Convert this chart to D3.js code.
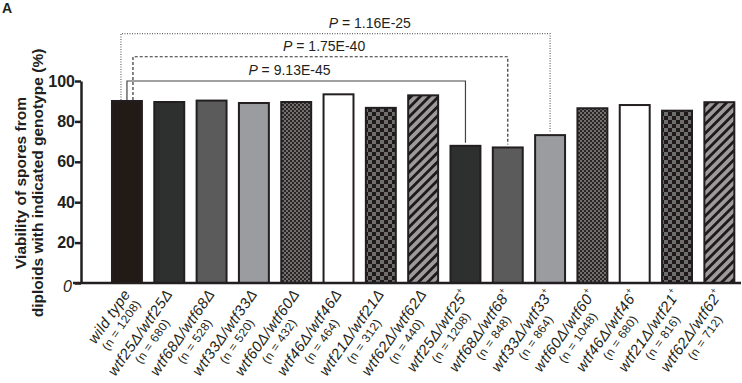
<!DOCTYPE html>
<html><head><meta charset="utf-8">
<script src="https://cdn.jsdelivr.net/npm/d3@7"></script>
<style>body{margin:0;background:#fff} svg{display:block;font-family:"Liberation Sans",Arial,sans-serif}</style>
</head><body><svg id="c" width="742" height="383"></svg>
<script>
// ---- data ----
const genotypes = ["wild type","wtf25Δ/wtf25Δ","wtf68Δ/wtf68Δ","wtf33Δ/wtf33Δ","wtf60Δ/wtf60Δ","wtf46Δ/wtf46Δ","wtf21Δ/wtf21Δ","wtf62Δ/wtf62Δ",
  "wtf25Δ/wtf25","wtf68Δ/wtf68","wtf33Δ/wtf33","wtf60Δ/wtf60","wtf46Δ/wtf46","wtf21Δ/wtf21","wtf62Δ/wtf62"];
const plusSuffix = [false,false,false,false,false,false,false,false,true,true,true,true,true,true,true];
const nValues = [1208,680,528,520,432,464,312,440,1208,848,864,1048,680,816,712];
const viability = [90.6,90.1,90.8,89.6,90.1,93.9,87.2,93.4,68.4,67.6,73.7,87.0,88.6,85.8,90.0];
const fillKinds = ["black","dark","mid","light","fine","white","checker","stripe","dark","mid","light","fine","white","checker","stripe"];
const yTicks = [0,20,40,60,80,100];
const pValues = ["9.13E-45","1.75E-40","1.16E-25"];
const pPairs = [[0,8],[0,9],[0,10]];
const pLevels = [100,112,123.5];
const pStyles = ["solid","dashed","dotted"];
const pLeftOffset = [0,6,-6];
const pLabelFrac = [0.48,0.51,0.58];

// ---- setup ----
const svg = d3.select("#c");
const ink = "#231f20";
const x = d3.scaleBand().domain(d3.range(genotypes.length)).range([100.4,745.9]).paddingInner(0.245).paddingOuter(0.25);
const y = d3.scaleLinear().domain([0,100]).range([283,81]);
const axisX = 81;

const defs = svg.append("defs");
const pf = defs.append("pattern").attr("id","fine").attr("patternUnits","userSpaceOnUse").attr("width",4).attr("height",4);
pf.append("rect").attr("width",4).attr("height",4).attr("fill","#2a2524");
pf.append("rect").attr("width",2).attr("height",2).attr("fill","#707070");
pf.append("rect").attr("x",2).attr("y",2).attr("width",2).attr("height",2).attr("fill","#707070");
const pc = defs.append("pattern").attr("id","checker").attr("patternUnits","userSpaceOnUse").attr("width",8).attr("height",8);
pc.append("rect").attr("width",8).attr("height",8).attr("fill","#1f1a19");
pc.append("rect").attr("width",4).attr("height",4).attr("fill","#6e6e6e");
pc.append("rect").attr("x",4).attr("y",4).attr("width",4).attr("height",4).attr("fill","#6e6e6e");
const ps = defs.append("pattern").attr("id","stripe").attr("patternUnits","userSpaceOnUse").attr("width",6.5).attr("height",6.5).attr("patternTransform","rotate(45)");
ps.append("rect").attr("width",6.5).attr("height",6.5).attr("fill","#9b9b9d");
ps.append("rect").attr("width",2.8).attr("height",6.5).attr("fill","#1f1a19");

const fillMap = {black:"#221a16",dark:"#2e2f2f",mid:"#5b5b5b",light:"#9b9ca0",fine:"url(#fine)",white:"#ffffff",checker:"url(#checker)",stripe:"url(#stripe)"};

// ---- bars ----
svg.append("g").selectAll("rect").data(viability).join("rect")
  .attr("x",(d,i)=>x(i)+1).attr("width",x.bandwidth()-2)
  .attr("y",d=>y(d)+1).attr("height",d=>y(0)-y(d)-1)
  .attr("fill",(d,i)=>fillMap[fillKinds[i]])
  .attr("stroke",ink).attr("stroke-width",2);

// ---- axes ----
const yAxis = svg.append("g").attr("transform",`translate(${axisX},0)`)
  .call(d3.axisLeft(y).tickValues(yTicks).tickSize(6).tickSizeOuter(0).tickPadding(0));
yAxis.select(".domain").attr("stroke",ink).attr("stroke-width",2.5);
yAxis.selectAll(".tick line").attr("stroke",ink).attr("stroke-width",2.5);
yAxis.selectAll(".tick text").attr("fill",ink).attr("font-size",16).attr("font-weight","bold")
  .attr("font-family","Liberation Sans, Arial, sans-serif")
  .filter(d=>d===0).attr("font-weight","normal").attr("font-style","italic").attr("dy","0.55em").attr("x",-9);
svg.append("line").attr("x1",axisX-8).attr("x2",741).attr("y1",y(0)).attr("y2",y(0))
  .attr("stroke",ink).attr("stroke-width",2.5);

// y title
const yt = svg.append("text").attr("transform",`translate(26,183) rotate(-90)`)
  .attr("text-anchor","middle").attr("font-weight","bold").attr("font-size",15.5).attr("fill",ink);
yt.append("tspan").attr("x",0).attr("dy",0).text("Viability of spores from");
yt.append("tspan").attr("x",0).attr("dy",17).text("diploids with indicated genotype (%)");

// panel letter
svg.append("text").attr("x",2).attr("y",13).attr("font-weight","bold").attr("font-size",14).attr("fill",ink).text("A");

// ---- x labels ----
const xl = svg.append("g").selectAll("g").data(genotypes).join("g")
  .attr("transform",(d,i)=>`translate(${x(i)+x.bandwidth()/2+4},${y(0)+11}) rotate(-55)`);
xl.each(function(d,i){
  const g = d3.select(this);
  const t1 = g.append("text").attr("text-anchor","end").attr("font-style","italic").attr("font-size",15)
    .attr("letter-spacing",0.4).attr("fill",ink).text(d);
  if(plusSuffix[i]) t1.append("tspan").attr("font-size",9).attr("font-style","normal").attr("dy","-0.8em").text("+");
  const w = t1.node().getComputedTextLength();
  const shift = plusSuffix[i] ? 2 : 0;
  g.append("text").attr("text-anchor","middle").attr("x",-w/2+shift).attr("y",14).attr("font-size",12)
    .attr("letter-spacing",0.3).attr("fill",ink).text(`(n = ${nValues[i]})`);
});

// ---- significance brackets ----
const dashes = {solid:null,dashed:"3,2",dotted:"1,1.5"};
const bcol = {solid:"#444",dashed:"#333",dotted:"#666"};
pPairs.forEach((p,k)=>{
  const xa = x(p[0])+x.bandwidth()/2+pLeftOffset[k];
  const xb = x(p[1])+x.bandwidth()/2;
  const yl = y(pLevels[k]);
  const path = d3.path();
  path.moveTo(xa,y(viability[p[0]])); path.lineTo(xa,yl); path.lineTo(xb,yl); path.lineTo(xb,y(viability[p[1]])-2);
  svg.append("path").attr("d",path.toString()).attr("fill","none").attr("stroke",bcol[pStyles[k]])
    .attr("stroke-width",1.2).attr("stroke-dasharray",dashes[pStyles[k]]);
  const lt = svg.append("text").attr("x",xa+(xb-xa)*pLabelFrac[k]).attr("y",yl-6).attr("text-anchor","middle")
    .attr("font-size",14).attr("fill",ink);
  lt.append("tspan").attr("font-style","italic").text("P");
  lt.append("tspan").text(" = "+pValues[k]);
});
</script></body></html>
